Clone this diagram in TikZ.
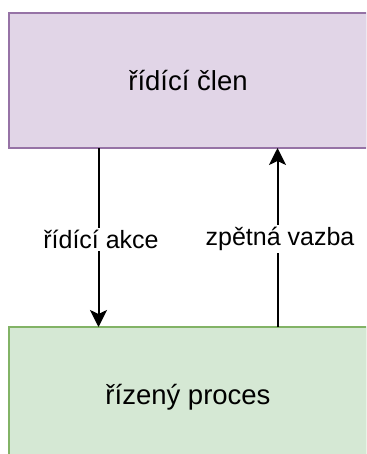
\documentclass[tikz,border=0pt]{standalone}
\usepackage{fontspec}
\setmainfont{Liberation Sans}
\usetikzlibrary{arrows.meta,calc}
\definecolor{ctrlfill}{HTML}{E1D5E7}
\definecolor{ctrldraw}{HTML}{9673A6}
\definecolor{plantfill}{HTML}{D5E8D4}
\definecolor{plantdraw}{HTML}{82B366}
\tikzset{
    blok/.style={rectangle,line width=2pt,outer sep=0pt,
        minimum width=358pt,font=\fontsize{27.5}{33}\selectfont},
    tok/.style={line width=2pt,-{Stealth[length=17pt,width=17pt,inset=4pt]}},
    popis/.style={fill=white,inner sep=2pt,xshift=2.5pt,font=\fontsize{25}{30}\selectfont},
}
\begin{document}
\begin{tikzpicture}[x=1pt,y=1pt]
    \useasboundingbox(0,0)rectangle(366,-454);
    \clip(0,0)rectangle(366,-454);
    \node[blok,fill=ctrlfill,draw=ctrldraw,minimum height=135pt](clen)at(188,-80.5){řídící člen};
    \node[blok,fill=plantfill,draw=plantdraw,minimum height=140pt](proces)at(188,-397){řízený proces};
    % akce dolu, vazba nahoru
    \draw[tok]($(clen.south west)!.25!(clen.south east)$)--($(proces.north west)!.25!(proces.north east)$)
        node[popis,pos=.51]{řídící akce};
    \draw[tok]($(proces.north west)!.75!(proces.north east)$)--($(clen.south west)!.75!(clen.south east)$)
        node[popis,pos=.49]{zpětná vazba};
\end{tikzpicture}
\end{document}
